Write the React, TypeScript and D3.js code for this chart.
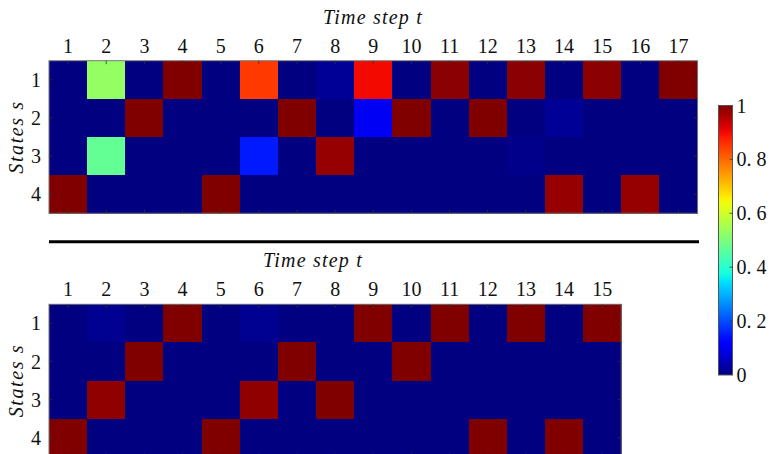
import React from 'react';
import * as d3 from 'd3';

// data
const states = [1, 2, 3, 4];
const stepsTop = d3.range(1, 18);
const stepsBottom = d3.range(1, 16);

// rows = states, columns = time steps
const topValues = [
  [0, 0.53, 0, 1, 0, 0.85, 0, 0.02, 0.9, 0, 0.99, 0, 0.99, 0, 0.99, 0, 1],
  [0, 0, 1, 0, 0, 0, 1, 0, 0.1, 1, 0, 1, 0, 0.02, 0, 0, 0],
  [0, 0.47, 0, 0, 0, 0.15, 0, 0.98, 0, 0, 0, 0, 0.01, 0, 0, 0, 0],
  [1, 0, 0, 0, 1, 0, 0, 0, 0, 0, 0, 0, 0, 0.98, 0, 0.98, 0],
];

const bottomValues = [
  [0, 0.015, 0, 1, 0, 0.015, 0, 0, 1, 0, 1, 0, 1, 0, 1],
  [0, 0, 1, 0, 0, 0, 1, 0, 0, 1, 0, 0, 0, 0, 0],
  [0, 0.985, 0, 0, 0, 0.985, 0, 1, 0, 0, 0, 0, 0, 0, 0],
  [1, 0, 0, 0, 1, 0, 0, 0, 0, 0, 0, 1, 0, 1, 0],
];

const colorbarTicks = [0, 0.2, 0.4, 0.6, 0.8, 1];
const colorbarLabels = ['0', '0. 2', '0. 4', '0. 6', '0. 8', '1'];

// matplotlib jet
const jetR = d3.scaleLinear().domain([0, 0.35, 0.66, 0.89, 1]).range([0, 0, 1, 1, 0.5]).clamp(true);
const jetG = d3.scaleLinear().domain([0, 0.125, 0.375, 0.64, 0.91, 1]).range([0, 0, 1, 1, 0, 0]).clamp(true);
const jetB = d3.scaleLinear().domain([0, 0.11, 0.34, 0.65, 1]).range([0.5, 1, 1, 0, 0]).clamp(true);
const jet = v => d3.rgb(jetR(v) * 255, jetG(v) * 255, jetB(v) * 255).formatHex();

const serif = 'Liberation Serif, DejaVu Serif, serif';
const cell = 38.15;
const left = 49;

function Heatmap({ values, steps, top, titleX }) {
  const w = steps.length * cell;
  const h = states.length * cell;
  const x = d3.scaleBand().domain(steps).range([left, left + w]);
  const y = d3.scaleBand().domain(states).range([top, top + h]);
  const tick = 3.5;

  return (
    <g>
      <g shapeRendering="crispEdges">
        {states.map((s, i) =>
          steps.map((t, j) => (
            <rect
              key={`${s}-${t}`}
              x={x(t)}
              y={y(s)}
              width={x.bandwidth() + 0.5}
              height={y.bandwidth() + 0.5}
              fill={jet(values[i][j])}
            />
          ))
        )}
      </g>
      <rect x={left} y={top} width={w} height={h} fill="none" stroke="#777" strokeWidth={1} />
      {steps.map(t => {
        const cx = x(t) + x.bandwidth() / 2;
        return (
          <g key={t}>
            <line x1={cx} x2={cx} y1={top} y2={top + tick} stroke="#333" strokeWidth={0.8} />
            <line x1={cx} x2={cx} y1={top + h} y2={top + h - tick} stroke="#333" strokeWidth={0.8} />
            <text x={cx} y={top - 8} textAnchor="middle" fontFamily={serif} fontSize={20} fill="#111">
              {t}
            </text>
          </g>
        );
      })}
      {states.map(s => {
        const cy = y(s) + y.bandwidth() / 2;
        return (
          <g key={s}>
            <line x1={left} x2={left + tick} y1={cy} y2={cy} stroke="#333" strokeWidth={0.8} />
            <line x1={left + w} x2={left + w - tick} y1={cy} y2={cy} stroke="#333" strokeWidth={0.8} />
            <text x={left - 8} y={cy + 7} textAnchor="end" fontFamily={serif} fontSize={20} fill="#111">
              {s}
            </text>
          </g>
        );
      })}
      <text
        x={titleX}
        y={top - 37}
        textAnchor="middle"
        fontFamily={serif}
        fontStyle="italic"
        fontSize={20}
        letterSpacing={1.2}
        fill="#111">
        Time step t
      </text>
      <text
        transform={`translate(23,${top + h / 2}) rotate(-90)`}
        textAnchor="middle"
        fontFamily={serif}
        fontStyle="italic"
        fontSize={20}
        letterSpacing={1.6}
        fill="#111">
        States s
      </text>
    </g>
  );
}

function Colorbar() {
  const x0 = 718.5;
  const bw = 14;
  const cy = d3.scaleLinear().domain([0, 1]).range([375, 105.5]);
  const stops = d3.range(0, 1.0001, 0.02);

  return (
    <g>
      <defs>
        <linearGradient id="jetGrad" x1="0" y1="1" x2="0" y2="0">
          {stops.map(s => (
            <stop key={s} offset={s} stopColor={jet(s)} />
          ))}
        </linearGradient>
      </defs>
      <rect x={x0} y={cy(1)} width={bw} height={cy(0) - cy(1)} fill="url(#jetGrad)" stroke="#555" strokeWidth={1} />
      {colorbarTicks.map((v, i) => (
        <g key={v}>
          {i > 0 && i < colorbarTicks.length - 1 && (
            <line x1={x0 + bw} x2={x0 + bw - 3} y1={cy(v)} y2={cy(v)} stroke="#333" strokeWidth={0.8} />
          )}
          <text x={x0 + bw + 4} y={cy(v) + 7} fontFamily={serif} fontSize={20} fill="#111">
            {colorbarLabels[i]}
          </text>
        </g>
      ))}
    </g>
  );
}

export default function App() {
  return (
    <svg width={771} height={454} style={{ position: 'absolute', left: 0, top: 0, background: '#fff' }}>
      <rect width={771} height={454} fill="#fff" />
      <Heatmap values={topValues} steps={stepsTop} top={60.7} titleX={373} />
      <line x1={49} x2={699} y1={241.7} y2={241.7} stroke="#000" strokeWidth={3} />
      <Heatmap values={bottomValues} steps={stepsBottom} top={304.3} titleX={313} />
      <Colorbar />
    </svg>
  );
}
